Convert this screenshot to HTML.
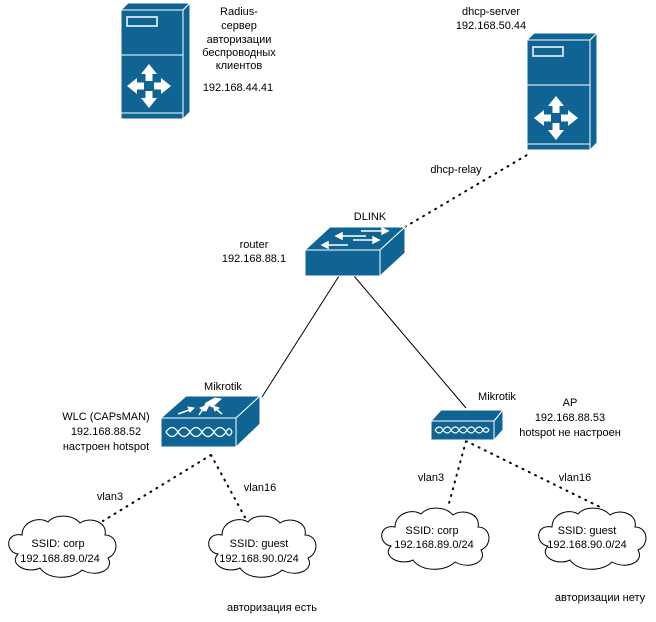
<!DOCTYPE html>
<html><head><meta charset="utf-8"><style>
body{margin:0;background:#fff;}
svg text{font-family:"Liberation Sans","DejaVu Sans",sans-serif;font-size:11px;fill:#000;}
</style></head><body>
<svg width="656" height="617" viewBox="0 0 656 617" xmlns="http://www.w3.org/2000/svg">
<defs>
<g id="arrows4" fill="#fff">
<polygon points="0,-22 -8,-12 -3.5,-12 -3.5,-5 3.5,-5 3.5,-12 8,-12"/>
<polygon points="0,22 -8,12 -3.5,12 -3.5,5 3.5,5 3.5,12 8,12"/>
<polygon points="-22,0 -12,-8 -12,-3.5 -5,-3.5 -5,3.5 -12,3.5 -12,8"/>
<polygon points="22,0 12,-8 12,-3.5 5,-3.5 5,3.5 12,3.5 12,8"/>
</g>
</defs>
<g stroke="#000" stroke-width="1" fill="none">
<line x1="339" y1="276" x2="262" y2="397"/>
<line x1="354" y1="276" x2="466" y2="408"/>
</g>
<g stroke="#000" stroke-width="2" fill="none" stroke-dasharray="1 6" stroke-linecap="round">
<line x1="405" y1="227" x2="527" y2="155"/>
<line x1="211" y1="455" x2="103" y2="521"/>
<line x1="211" y1="455" x2="247" y2="521"/>
<line x1="466" y1="441" x2="448" y2="507"/>
<line x1="466" y1="441" x2="600" y2="507"/>
</g>
<g stroke="#fff" stroke-width="1" fill="#0f6494">
<polygon points="121,10 128,3 190,3 183,10"/>
<polygon points="183,10 190,3 190,112 183,119"/>
<rect x="121" y="10" width="62" height="45"/>
<rect x="121" y="55" width="62" height="58"/>
<rect x="121" y="113" width="62" height="6"/>
<rect x="127" y="17" width="30" height="9" stroke-width="1.5"/>
</g>
<use href="#arrows4" x="149" y="86"/>
<g stroke="#fff" stroke-width="1" fill="#0f6494">
<polygon points="527,40 534,33 597,33 590,40"/>
<polygon points="590,40 597,33 597,143 590,150"/>
<rect x="527" y="40" width="63" height="45"/>
<rect x="527" y="85" width="63" height="59"/>
<rect x="527" y="144" width="63" height="6"/>
<rect x="533" y="47" width="30" height="9" stroke-width="1.5"/>
</g>
<use href="#arrows4" x="556" y="118"/>
<g stroke="#fff" stroke-width="1" fill="#0f6494">
<polygon points="305,250 330,227 405,227 380,250"/>
<polygon points="380,250 405,227 405,253 380,276"/>
<rect x="305" y="250" width="75" height="26"/>
</g>
<g stroke="#fff" stroke-width="1.5" fill="#fff">
<line x1="340" y1="236" x2="366" y2="236"/><polygon points="336,236 342,233 342,239"/>
<line x1="361" y1="231" x2="384" y2="231"/><polygon points="388,231 382,228 382,234"/>
<line x1="353" y1="240" x2="375" y2="240"/><polygon points="379,240 373,237 373,243"/>
<line x1="326" y1="245" x2="348" y2="245"/><polygon points="322,245 328,242 328,248"/>
</g>
<g stroke="#fff" stroke-width="1" fill="#0f6494">
<polygon points="161,418 186,396 260,396 236,418"/>
<polygon points="236,418 260,396 260,424 236,447"/>
<rect x="161" y="418" width="75" height="29"/>
</g>
<g fill="#fff" stroke="#fff">
<polygon points="206,403 215,398 221,399 212,407 209,405 206,411 203,409"/>
<line x1="178" y1="414" x2="192" y2="409" stroke-width="1.5"/><polygon points="194,408 188,407 190,412"/>
<line x1="199" y1="415" x2="203" y2="409" stroke-width="1.5"/><polygon points="205,406 200,408 204,411"/>
<line x1="222" y1="414" x2="216" y2="409" stroke-width="1.5"/><polygon points="213,406 215,411 219,408"/>
</g>
<g fill="none" stroke="#fff" stroke-width="1.3">
<path d="M166,432 C170,426 174,426 178,432 C182,438 186,438 190,432 C194,426 198,426 202,432 C206,438 210,438 214,432 C218,426 222,426 226,432 C228,436 230,437 232,432"/>
<path d="M166,432 C170,438 174,438 178,432 C182,426 186,426 190,432 C194,438 198,438 202,432 C206,426 210,426 214,432 C218,438 222,438 226,432 C228,428 230,427 232,432"/>
</g>
<g stroke="#fff" stroke-width="1" fill="#0f6494">
<polygon points="431,421 441,410 503,410 494,421"/>
<polygon points="494,421 503,410 503,430 494,440"/>
<rect x="431" y="421" width="63" height="19"/>
</g>
<g fill="none" stroke="#fff" stroke-width="1.2">
<path d="M435,430 C438,426 441,426 443,430 C446,434 449,434 451,430 C454,426 457,426 459,430 C462,434 465,434 467,430 C470,426 473,426 475,430 C478,434 481,434 483,430 C485,427 487,427 489,430"/>
<path d="M435,430 C438,434 441,434 443,430 C446,426 449,426 451,430 C454,434 457,434 459,430 C462,426 465,426 467,430 C470,434 473,434 475,430 C478,426 481,426 483,430 C485,433 487,433 489,430"/>
</g>
<g fill="#fff" stroke="#000" stroke-width="1">
<path d="M22,535 C5,532 5,552 18,554 C8,565 28,574 40,568 C48,580 72,580 82,570 C96,578 115,570 108,558 C120,553 118,535 105,535 C108,522 90,516 80,523 C72,514 55,514 48,522 C38,516 22,522 22,535 Z"/>
<path d="M222,535 C205,532 205,552 218,554 C208,565 228,574 240,568 C248,580 272,580 282,570 C296,578 315,570 308,558 C320,553 318,535 305,535 C308,522 290,516 280,523 C272,514 255,514 248,522 C238,516 222,522 222,535 Z"/>
<path d="M395,527 C378,524 378,544 391,546 C381,557 401,566 413,560 C421,572 445,572 455,562 C469,570 488,562 481,550 C493,545 491,527 478,527 C481,514 463,508 453,515 C445,506 428,506 421,514 C411,508 395,514 395,527 Z"/>
<path d="M552,527 C535,524 535,544 548,546 C538,557 558,566 570,560 C578,572 602,572 612,562 C626,570 645,562 638,550 C650,545 648,527 635,527 C638,514 620,508 610,515 C602,506 585,506 578,514 C568,508 552,514 552,527 Z"/>
</g>
<g text-anchor="middle">
<text x="239" y="15">Radius-</text>
<text x="239" y="29">сервер</text>
<text x="239" y="43">авторизации</text>
<text x="239" y="56">беспроводных</text>
<text x="239" y="69">клиентов</text>
<text x="238" y="91">192.168.44.41</text>
<text x="491" y="15">dhcp-server</text>
<text x="491" y="29">192.168.50.44</text>
<text x="456" y="173">dhcp-relay</text>
<text x="370" y="220">DLINK</text>
<text x="254" y="248">router</text>
<text x="254" y="262">192.168.88.1</text>
<text x="223" y="390">Mikrotik</text>
<text x="106" y="420">WLC (CAPsMAN)</text>
<text x="106" y="435">192.168.88.52</text>
<text x="106" y="450">настроен hotspot</text>
<text x="497" y="400">Mikrotik</text>
<text x="570" y="406">AP</text>
<text x="570" y="421">192.168.88.53</text>
<text x="570" y="436">hotspot не настроен</text>
<text x="110" y="500">vlan3</text>
<text x="260" y="491">vlan16</text>
<text x="431" y="481">vlan3</text>
<text x="575" y="481">vlan16</text>
<text x="58" y="547">SSID: corp</text>
<text x="60" y="562">192.168.89.0/24</text>
<text x="259" y="547">SSID: guest</text>
<text x="259" y="562">192.168.90.0/24</text>
<text x="432" y="534">SSID: corp</text>
<text x="434" y="548">192.168.89.0/24</text>
<text x="587" y="534">SSID: guest</text>
<text x="587" y="548">192.168.90.0/24</text>
<text x="272" y="611">авторизация есть</text>
<text x="600" y="601">авторизации нету</text>
</g>
</svg>
</body></html>
